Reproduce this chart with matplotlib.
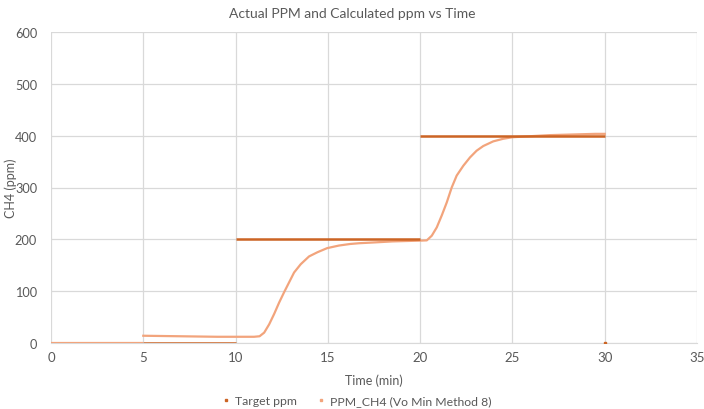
import matplotlib
matplotlib.use("Agg")
import matplotlib.pyplot as plt
from matplotlib.lines import Line2D

# target ppm: flat steps (start, end, level) plus a lone point at the end
target_start = [5, 10, 20]
target_end = [10, 20, 30]
target_level = [0, 200, 400]
target_end_time = [30]
target_end_ppm = [0]

ch4_zero_start = [0]
ch4_zero_end = [5]
ch4_zero_level = [0]
ch4_time = [5.0, 6, 7, 8, 9, 10, 10.5, 11, 11.3, 11.55, 11.82, 12.09, 12.36, 12.63,
            12.9, 13.17, 13.53, 13.98, 14.43, 14.96, 15.6, 16.2, 16.7, 17.5, 18.5,
            19.5, 20.0, 20.36, 20.63, 20.9, 21.17, 21.44, 21.71, 21.98, 22.34, 22.7,
            23.06, 23.42, 23.96, 24.5, 25.0, 25.5, 26, 26.5, 27, 27.5, 28, 28.5, 29,
            29.5, 30]
ch4_ppm = [14, 13.5, 13, 12.5, 12, 12, 12, 12, 13, 20, 36, 56, 78, 98,
           117, 136, 152, 167, 175, 183, 188, 191, 192.5, 194, 196,
           197, 197.5, 198, 207, 223, 246, 271, 300, 323, 342, 358,
           371, 380, 389, 394, 397, 398, 399, 400, 401, 401.5, 402, 402.5, 403,
           403.5, 403.5]

dark = "#CC6424"
light = "#F2A47C"
grey = "#595959"

plt.rcParams['font.family'] = ['Lato', 'DejaVu Sans']

fig = plt.figure(figsize=(7.04, 4.10), dpi=100)
ax = fig.add_axes([51 / 704, 1 - 344 / 410, 646 / 704, 311 / 410])

ax.hlines(ch4_zero_level, ch4_zero_start, ch4_zero_end, color=light, lw=1.6, zorder=3)
ax.plot(ch4_time, ch4_ppm, color=light, lw=1.6, zorder=3)
ax.hlines(target_level, target_start, target_end, color=dark, lw=1.8, zorder=4)
ax.plot(target_end_time, target_end_ppm, 's', color=dark, ms=1.5, zorder=4)

ax.set_xlim(0, 35)
ax.set_ylim(0, 600)
ax.set_xticks(range(0, 36, 5))
ax.set_yticks(range(0, 601, 100))
ax.grid(True, color="#D9D9D9", lw=0.9)
ax.set_axisbelow(True)
for s in ["top", "right", "left"]:
    ax.spines[s].set_visible(False)
ax.spines["bottom"].set_color("#D9D9D9")
ax.tick_params(axis="x", length=0, colors=grey, labelsize=9.5, pad=6)
ax.tick_params(axis="y", length=0, colors=grey, labelsize=9.2, pad=10)

ax.set_xlabel("Time (min)", color=grey, fontsize=9, labelpad=7)
ax.set_ylabel("CH4 (ppm)", color=grey, fontsize=9)
ax.yaxis.set_label_coords(-(51 - 17) / 646, 0.5)
fig.text(0.5, 1 - 14 / 410, "Actual PPM and Calculated ppm vs Time", color=grey,
         fontsize=10, ha="center", va="center")

handles = [Line2D([], [], ls="none", marker="s", ms=1.5, color=dark),
           Line2D([], [], ls="none", marker="s", ms=1.5, color=light)]
fig.legend(handles, ["Target ppm", "PPM_CH4 (Vo Min Method 8)"], loc="center",
           bbox_to_anchor=(0.507, 1 - 402 / 410), ncol=2, frameon=False,
           fontsize=8.8, labelcolor=grey, handlelength=0.6, handletextpad=0.5,
           columnspacing=1.6)

fig.savefig("out.png", dpi=100)
